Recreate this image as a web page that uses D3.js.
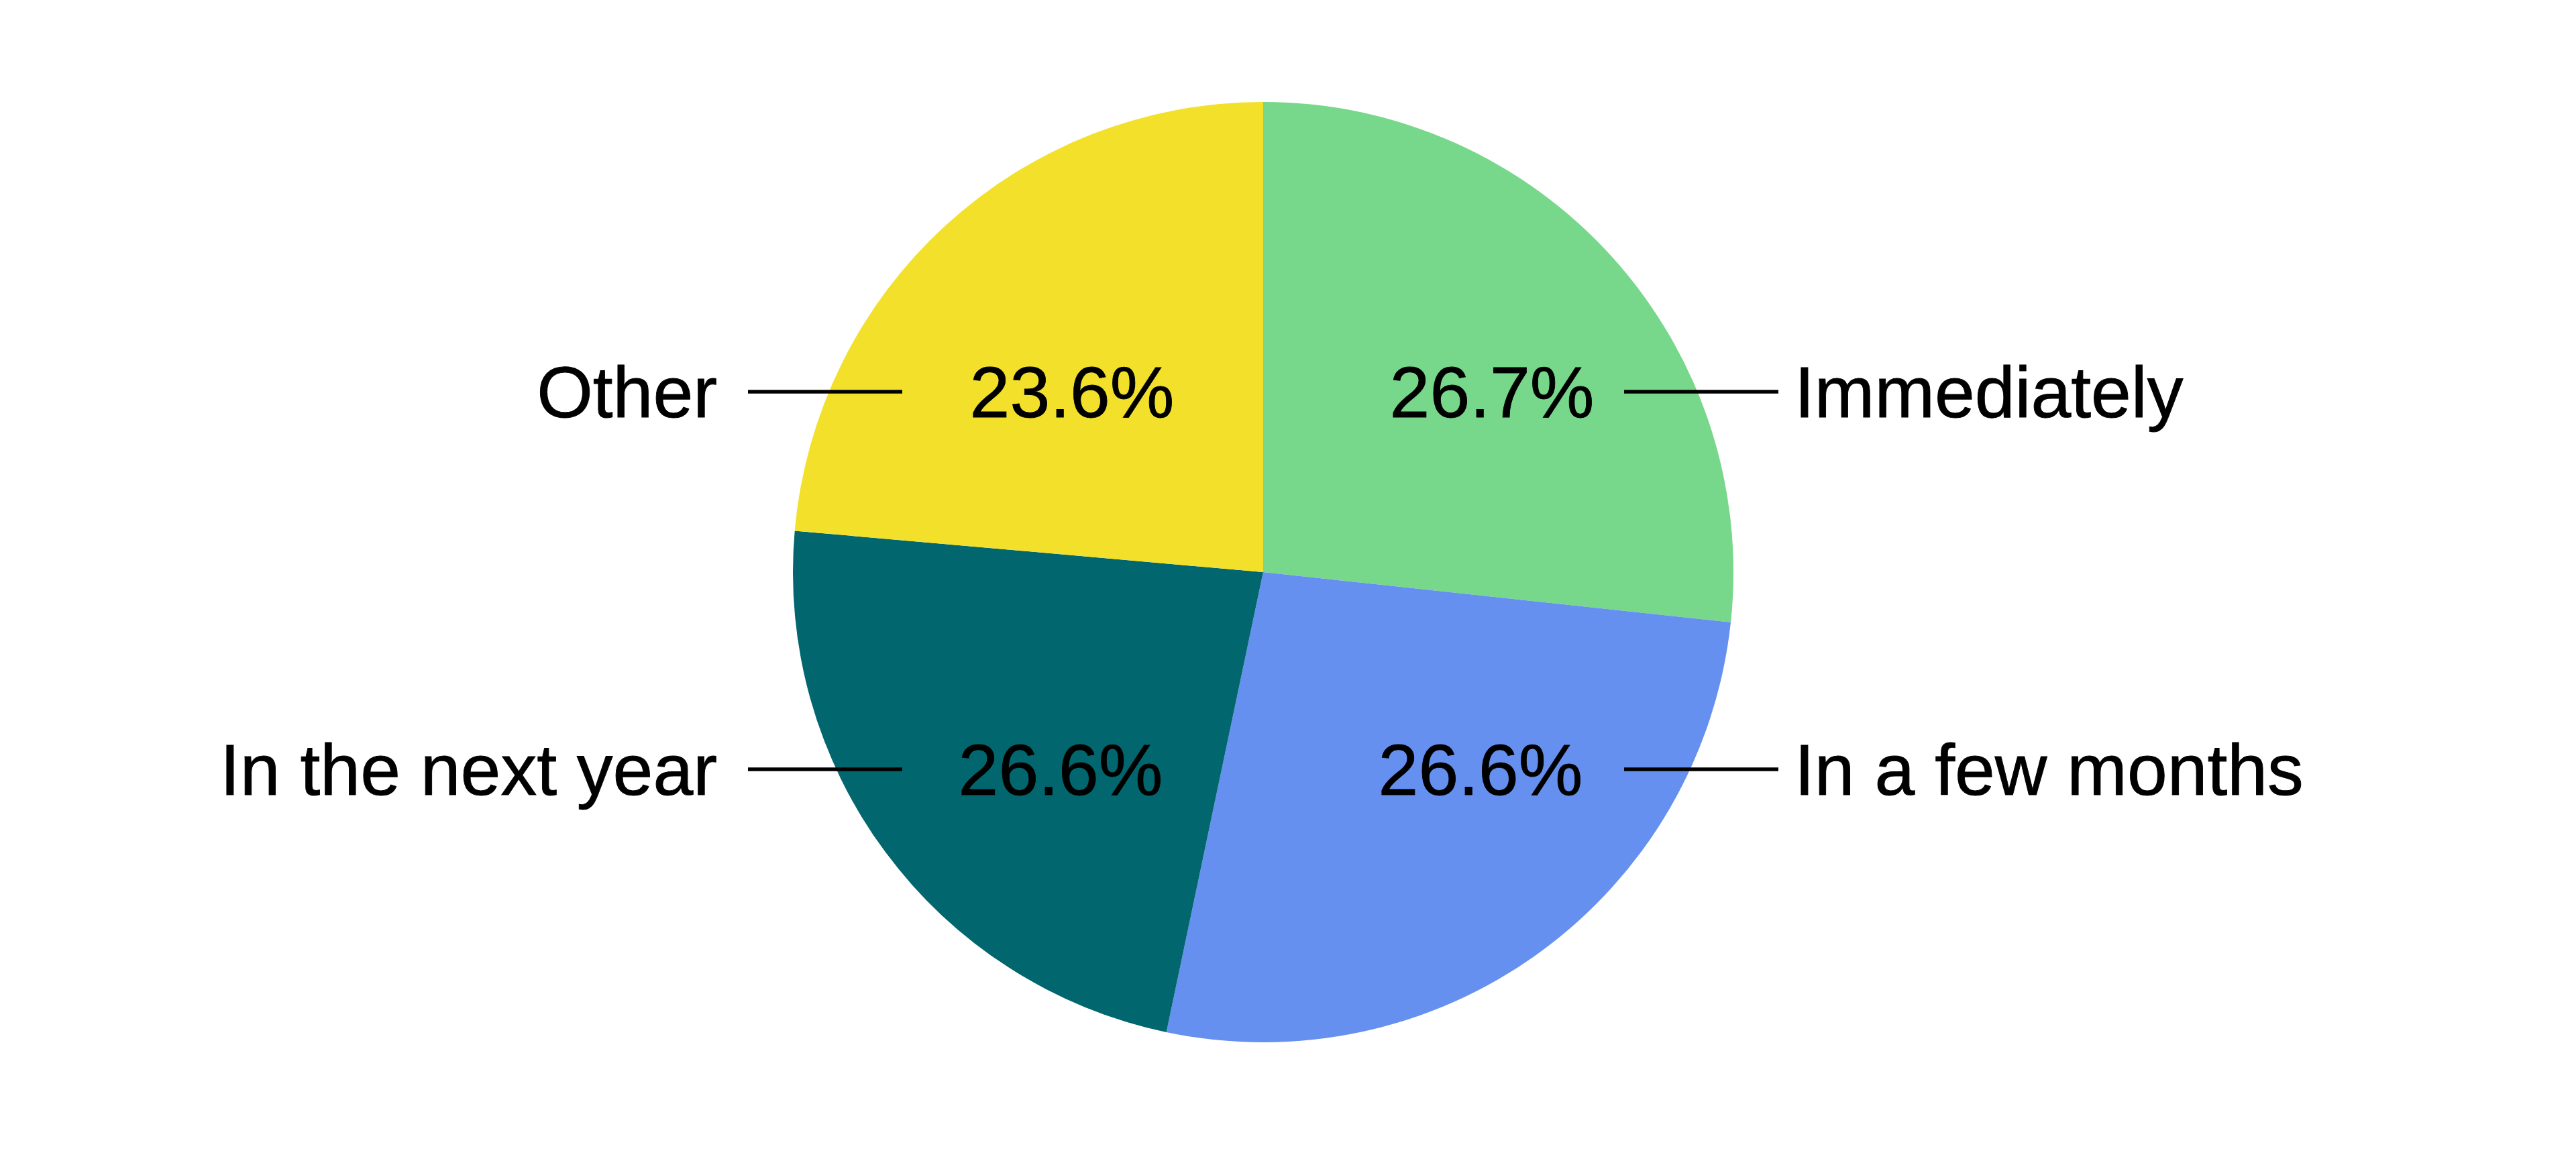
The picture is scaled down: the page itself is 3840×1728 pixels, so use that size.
<!DOCTYPE html>
<html>
<head>
<meta charset="utf-8">
<script src="https://cdn.jsdelivr.net/npm/d3@7"></script>
<style>
  html, body { margin: 0; padding: 0; background: #ffffff; }
  svg { display: block; }
  text { font-family: "Liberation Sans", Arial, sans-serif; fill: #000; stroke: #000; stroke-width: 0.9px; }
</style>
</head>
<body>
<svg id="chart" width="3840" height="1728"></svg>
<script>
// ---- data ----
const categories = ["Immediately", "In a few months", "In the next year", "Other"];
// slice shares as drawn in the picture (percent)
const shares = [26.7, 26.6, 23.1, 23.6];
// value labels as printed on the chart
const valueLabels = ["26.7%", "26.6%", "26.6%", "23.6%"];
const colors = ["#77d78a", "#6590f0", "#02666f", "#f2e02a"];

// ---- layout ----
const W = 3840, H = 1728;
const cx = 1883, cy = 853, R = 701;
const fontSize = 107.5;
const rowOffset = { top: -269, bottom: 294 };
const pctDist = 313;           // distance of value label centre from pie centre (x)
const pctShift = { top: 28, bottom: 11 };
const lineInner = 538, lineOuter = 768; // leader line span from centre (x)
const nameGap = { right: 24, left: 46 };

const svg = d3.select("#chart");
const g = svg.append("g").attr("transform", `translate(${cx},${cy})`);

const pie = d3.pie().sort(null).value(d => d.share).startAngle(0).endAngle(2 * Math.PI);
const arc = d3.arc().innerRadius(0).outerRadius(R);

const data = categories.map((c, i) => ({ name: c, share: shares[i], label: valueLabels[i], color: colors[i] }));
const arcs = pie(data);

g.selectAll("path.slice")
  .data(arcs)
  .join("path")
  .attr("class", "slice")
  .attr("d", arc)
  .attr("fill", d => d.data.color);

// labels
const lab = g.selectAll("g.lab").data(arcs).join("g").attr("class", "lab");
lab.each(function(d) {
  const [mx, my] = arc.centroid(d);
  const side = mx >= 0 ? 1 : -1;
  const row = my < 0 ? "top" : "bottom";
  const y = rowOffset[row];
  const sel = d3.select(this);
  sel.append("text")
    .attr("x", side * pctDist + pctShift[row])
    .attr("y", y + fontSize * 0.357)
    .attr("text-anchor", "middle")
    .attr("font-size", fontSize)
    .text(d.data.label);
  sel.append("line")
    .attr("x1", side * lineInner).attr("x2", side * lineOuter)
    .attr("y1", y).attr("y2", y)
    .attr("stroke", "#000").attr("stroke-width", 5.5);
  sel.append("text")
    .attr("x", side * (lineOuter + (side > 0 ? nameGap.right : nameGap.left)))
    .attr("y", y + fontSize * 0.357)
    .attr("text-anchor", side > 0 ? "start" : "end")
    .attr("font-size", fontSize)
    .text(d.data.name);
});
</script>
</body>
</html>
